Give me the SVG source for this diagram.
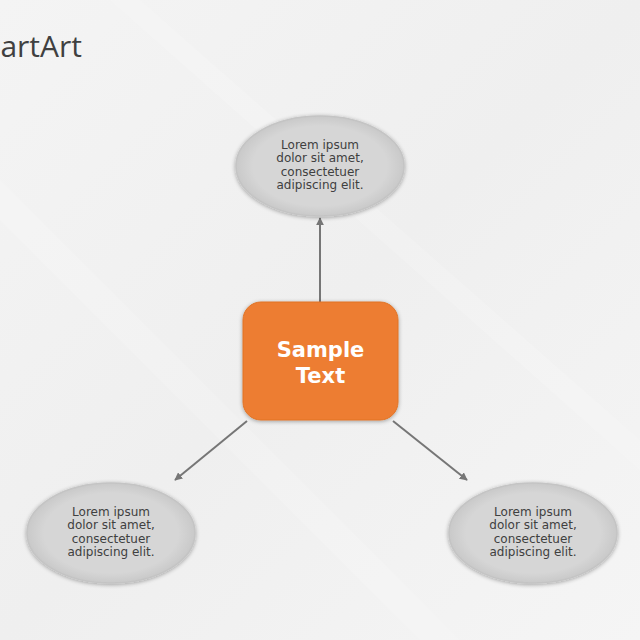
<svg xmlns="http://www.w3.org/2000/svg" width="640" height="640" viewBox="0 0 640 640">
<defs>
<linearGradient id="bg" x1="0" y1="0" x2="1" y2="1">
<stop offset="0" stop-color="#f4f4f4"/>
<stop offset="0.5" stop-color="#efefef"/>
<stop offset="1" stop-color="#f5f5f5"/>
</linearGradient>
<radialGradient id="ell" cx="0.5" cy="0.5" r="0.5">
<stop offset="0.8" stop-color="#d6d6d6"/>
<stop offset="1" stop-color="#c9c9c9"/>
</radialGradient>
<filter id="sh" x="-20%" y="-20%" width="140%" height="140%">
<feGaussianBlur in="SourceAlpha" stdDeviation="2"/>
<feOffset dx="0" dy="1"/>
<feComponentTransfer><feFuncA type="linear" slope="0.35"/></feComponentTransfer>
<feMerge><feMergeNode/><feMergeNode in="SourceGraphic"/></feMerge>
</filter>
<marker id="ah" viewBox="0 0 10 10" refX="9" refY="5" markerWidth="4" markerHeight="4" orient="auto">
<path d="M0,0 L10,5 L0,10 z" fill="#767676"/>
</marker>
</defs>
<style>
.e{fill:url(#ell);stroke:#c4c4c4;stroke-width:1.5}
.t{font-family:"DejaVu Sans",Verdana,sans-serif;font-size:12px;fill:#404040;text-anchor:middle}
.c{stroke:#767676;stroke-width:2;fill:none;marker-end:url(#ah)}
</style>
<rect width="640" height="640" fill="url(#bg)"/>
<path d="M140,0 L640,440 L640,470 L110,0 z" fill="#ffffff" opacity="0.15"/>
<path d="M0,180 L460,640 L420,640 L0,220 z" fill="#ffffff" opacity="0.15"/>
<text x="82" y="57" font-family="'Open Sans','Liberation Sans',sans-serif" font-size="30" fill="#404040" text-anchor="end">artArt</text>
<g id="connectors">
<line class="c" x1="320" y1="302" x2="320" y2="218"/>
<line class="c" x1="247" y1="421" x2="175" y2="480"/>
<line class="c" x1="393" y1="421" x2="467" y2="480"/>
</g>
<g id="top">
<ellipse class="e" cx="320" cy="166" rx="84" ry="50" filter="url(#sh)"/>
<text class="t" x="320" y="149">Lorem ipsum</text>
<text class="t" x="320" y="162">dolor sit amet,</text>
<text class="t" x="320" y="176">consectetuer</text>
<text class="t" x="320" y="189">adipiscing elit.</text>
</g>
<g id="center">
<rect x="243" y="302" width="155" height="118" rx="18" fill="#ed7d31" stroke="#e07428" stroke-width="1" filter="url(#sh)"/>
<text x="320.5" y="357" font-family="'DejaVu Sans',Verdana,sans-serif" font-size="21" font-weight="bold" fill="#ffffff" text-anchor="middle">Sample</text>
<text x="320.5" y="383" font-family="'DejaVu Sans',Verdana,sans-serif" font-size="21" font-weight="bold" fill="#ffffff" text-anchor="middle">Text</text>
</g>
<g id="left">
<ellipse class="e" cx="111" cy="533" rx="84" ry="50" filter="url(#sh)"/>
<text class="t" x="111" y="516">Lorem ipsum</text>
<text class="t" x="111" y="529">dolor sit amet,</text>
<text class="t" x="111" y="543">consectetuer</text>
<text class="t" x="111" y="556">adipiscing elit.</text>
</g>
<g id="right">
<ellipse class="e" cx="533" cy="533" rx="84" ry="50" filter="url(#sh)"/>
<text class="t" x="533" y="516">Lorem ipsum</text>
<text class="t" x="533" y="529">dolor sit amet,</text>
<text class="t" x="533" y="543">consectetuer</text>
<text class="t" x="533" y="556">adipiscing elit.</text>
</g>
</svg>
